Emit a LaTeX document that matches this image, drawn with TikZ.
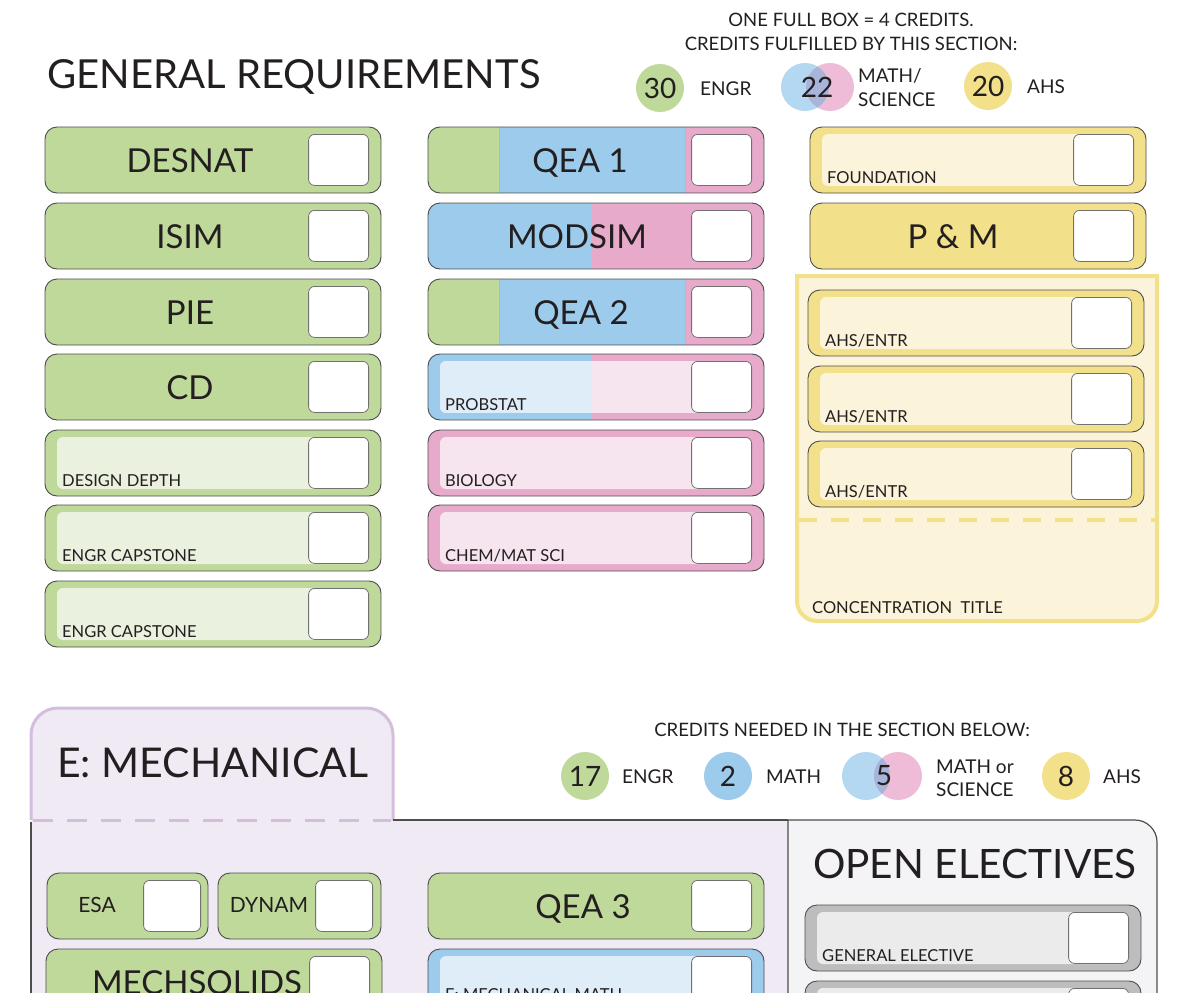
\documentclass[tikz,border=0pt]{standalone}
\usepackage{fontspec}
\setmainfont{Lato}
\usetikzlibrary{calc}
\definecolor{grn}{HTML}{BFD99B}
\definecolor{lgrn}{HTML}{EAF1DF}
\definecolor{blu}{HTML}{9DCBEC}
\definecolor{lblu}{HTML}{DFEDF8}
\definecolor{pnk}{HTML}{E8AACB}
\definecolor{lpnk}{HTML}{F6E4EF}
\definecolor{ylw}{HTML}{F3E08A}
\definecolor{lylw}{HTML}{FBF4DA}
\definecolor{lav}{HTML}{F0EAF4}
\definecolor{lavb}{HTML}{D5BEDD}
\definecolor{gry}{HTML}{BDBDBD}
\definecolor{lgry}{HTML}{EBEBEB}
\definecolor{oebg}{HTML}{F4F4F6}
\definecolor{bord}{HTML}{4D4D4D}
\definecolor{txt}{HTML}{231F20}
\definecolor{vblu}{HTML}{B5D8F2}
\definecolor{vpnk}{HTML}{EEBCD7}
\definecolor{vmix}{HTML}{A9B4DB}
\tikzset{
 base/.style={draw=bord, line width=0.9pt, rounded corners=12pt, minimum width=336pt, minimum height=66pt, anchor=north west, inner sep=0pt, outer sep=0pt},
 check/.style={draw=bord!80, fill=white, line width=0.8pt, rounded corners=6pt, minimum width=60pt, minimum height=51pt, anchor=north east, inner sep=0pt},
 big/.style={font=\fontsize{33}{33}\selectfont, text=txt, anchor=base, inner sep=0pt},
 small/.style={font=\fontsize{16.5}{16.5}\selectfont, text=txt, anchor=base west, inner sep=0pt},
 leg/.style={font=\fontsize{18.5}{18.5}\selectfont, text=txt, anchor=base, inner sep=0pt},
 legl/.style={font=\fontsize{19}{19}\selectfont, text=txt, anchor=base west, inner sep=0pt},
 num/.style={circle, minimum size=48pt, inner sep=0pt, font=\fontsize{28}{28}\selectfont, text=txt},
 numt/.style={inner sep=0pt, font=\fontsize{28}{28}\selectfont, text=txt},
 head/.style={font=\fontsize{40}{40}\selectfont, text=txt, anchor=base west, inner sep=0pt},
}
\newcommand\FullBox[6]{%
 \node[base, fill=#4] (#1) at (#2,#3) {};
 \node[check] (#1c) at ($(#1.north east)+(-12,7)$) {};
 \node[big] (#1t) at ($(#1.north west)+(#6,45)$) {#5};}
\newcommand\LightBox[7]{%
 \node[base, fill=#4] (#1) at (#2,#3) {};
 \fill[#5, rounded corners=6pt] ($(#1.north west)+(12,7)$) rectangle ($(#1.south east)+(-14,-7)$);
 \node[check] (#1c) at ($(#1.north east)+(-12,7)$) {};
 \node[small] (#1t) at ($(#1.north west)+(17,#7)$) {#6};}
\begin{document}
\begin{tikzpicture}[x=1pt,y=-1pt]
\useasboundingbox (0,0) rectangle (1200,993);
\clip (0,0) rectangle (1200,993);
\fill[white] (0,0) rectangle (1200,993);
% title
\node[head] (title) at (47,88) {GENERAL REQUIREMENTS};
% top legend
\node[leg] (leg1) at (851,26) {ONE FULL BOX = 4 CREDITS.};
\node[leg] (leg2) at (851,50) {CREDITS FULFILLED BY THIS SECTION:};
\node[num, fill=grn] (c30) at (660,88) {30};
\node[legl] (lengr) at (700,95) {ENGR};
\node[num, fill=vblu] (vb1) at (805,87) {};
\node[num, fill=vpnk] (vp1) at (830,87) {};
\begin{scope}
 \clip (vb1.center) circle[radius=24pt];
 \fill[vmix] (vp1.center) circle[radius=24pt];
\end{scope}
\node[numt] (n22) at (817,87) {22};
\node[legl] (lmath) at (858,82) {MATH/};
\node[legl] (lsci) at (858,106) {SCIENCE};
\node[num, fill=ylw] (c20) at (988,86) {20};
\node[legl] (lahs) at (1027,93) {AHS};
% left column
\FullBox{desnat}{45}{127}{grn}{DESNAT}{145}
\FullBox{isim}{45}{203}{grn}{ISIM}{145}
\FullBox{pie}{45}{279}{grn}{PIE}{145}
\FullBox{cd}{45}{354}{grn}{CD}{145}
\LightBox{dd}{45}{430}{grn}{lgrn}{DESIGN DEPTH}{56}
\LightBox{cap1}{45}{505}{grn}{lgrn}{ENGR CAPSTONE}{56}
\LightBox{cap2}{45}{581}{grn}{lgrn}{ENGR CAPSTONE}{56}
% middle column
\begin{scope}
 \clip[rounded corners=12pt] (428,127) rectangle (764,193);
 \fill[pnk] (428,127) rectangle (764,193);
 \fill[blu] (499,127) rectangle (685,193);
 \fill[grn] (428,127) rectangle (499,193);
\end{scope}
\draw[bord!40, line width=0.5pt] (499,127) -- (499,193) (685,127) -- (685,193);
\node[base] (qea1) at (428,127) {};
\node[check] (qea1c) at ($(qea1.north east)+(-12,7)$) {};
\node[big] (qea1t) at (580,172) {QEA 1};
\begin{scope}
 \clip[rounded corners=12pt] (428,203) rectangle (764,269);
 \fill[pnk] (428,203) rectangle (764,269);
 \fill[blu] (428,203) rectangle (592,269);
\end{scope}
\node[base] (modsim) at (428,203) {};
\node[check] (modsimc) at ($(modsim.north east)+(-12,7)$) {};
\node[big] (modsimt) at (577,248) {MODSIM};
\begin{scope}
 \clip[rounded corners=12pt] (428,279) rectangle (764,345);
 \fill[pnk] (428,279) rectangle (764,345);
 \fill[blu] (499,279) rectangle (685,345);
 \fill[grn] (428,279) rectangle (499,345);
\end{scope}
\draw[bord!40, line width=0.5pt] (499,279) -- (499,345) (685,279) -- (685,345);
\node[base] (qea2) at (428,279) {};
\node[check] (qea2c) at ($(qea2.north east)+(-12,7)$) {};
\node[big] (qea2t) at (581,324) {QEA 2};
\begin{scope}
 \clip[rounded corners=12pt] (428,354) rectangle (764,420);
 \fill[pnk] (428,354) rectangle (764,420);
 \fill[blu] (428,354) rectangle (592,420);
\end{scope}
\begin{scope}
 \clip[rounded corners=6pt] (440,361) rectangle (750,413);
 \fill[lpnk] (440,361) rectangle (750,413);
 \fill[lblu] (440,361) rectangle (592,413);
\end{scope}
\node[base] (probstat) at (428,354) {};
\node[check] (probstatc) at ($(probstat.north east)+(-12,7)$) {};
\node[small] (probstatt) at (445,410) {PROBSTAT};
\LightBox{bio}{428}{430}{pnk}{lpnk}{BIOLOGY}{56}
\LightBox{chem}{428}{505}{pnk}{lpnk}{CHEM/MAT SCI}{56}
% right column
\LightBox{found}{810}{127}{ylw}{lylw}{FOUNDATION}{56}
\FullBox{pm}{810}{203}{ylw}{P \& M}{143}
\draw[ylw, line width=4pt, fill=lylw] (797,276) -- (797,601) .. controls (797,612) and (806,621) .. (817,621) -- (1137,621) .. controls (1148,621) and (1157,612) .. (1157,601) -- (1157,276) -- cycle;
\draw[ylw, line width=4pt, dash pattern=on 18pt off 14pt] (799,520) -- (1155,520);
\LightBox{ahs1}{808}{290}{ylw}{lylw}{AHS/ENTR}{56}
\LightBox{ahs2}{808}{366}{ylw}{lylw}{AHS/ENTR}{56}
\LightBox{ahs3}{808}{441}{ylw}{lylw}{AHS/ENTR}{56}
\node[small] (conc) at (812,613) {CONCENTRATION\ \ TITLE};
% lower legend
\node[leg] (leg3) at (842,736) {CREDITS NEEDED IN THE SECTION BELOW:};
\node[num, fill=grn] (c17) at (585,776) {17};
\node[legl] (lengr2) at (622,783) {ENGR};
\node[num, fill=blu] (c2) at (728,776) {2};
\node[legl] (lmath2) at (766,783) {MATH};
\node[num, fill=vblu] (vb2) at (866,776) {};
\node[num, fill=vpnk] (vp2) at (898,776) {};
\begin{scope}
 \clip (vb2.center) circle[radius=24pt];
 \fill[vmix] (vp2.center) circle[radius=24pt];
\end{scope}
\node[numt] (n5) at (884,776) {5};
\node[legl] (lmo) at (936,773) {MATH or};
\node[legl] (lsci2) at (936,796) {SCIENCE};
\node[num, fill=ylw] (c8) at (1066,776) {8};
\node[legl] (lahs2) at (1103,783) {AHS};
% E: mechanical section
\fill[lav] (31,820) rectangle (788,1000);
\draw[lavb, line width=3pt, fill=lav] (31,820) -- (31,735) .. controls (31,720) and (43,708) .. (58,708) -- (366,708) .. controls (381,708) and (393,720) .. (393,735) -- (393,820);
\draw[lavb, line width=3pt, dash pattern=on 20pt off 14pt] (33,820) -- (391,820);
\node[head, font=\fontsize{41}{41}\selectfont] (emech) at (57,777) {E: MECHANICAL};
\draw[bord, line width=1.2pt] (31,822) -- (31,1000);
\draw[bord, line width=1.2pt] (393,820) -- (788,820);
\draw[bord, line width=1.2pt, fill=oebg] (788,1000) -- (788,820) -- (1135,820) .. controls (1147,820) and (1157,830) .. (1157,842) -- (1157,1000);
\node[head, font=\fontsize{40.5}{40.5}\selectfont] (oe) at (813,878) {OPEN ELECTIVES};
\LightBox{ge1}{805}{905}{gry}{lgry}{GENERAL ELECTIVE}{56}
\node[base, fill=gry] (ge2) at (805,981) {};
\fill[lgry, rounded corners=6pt] ($(ge2.north west)+(12,7)$) rectangle ($(ge2.south east)+(-14,-7)$);
\node[check] (ge2c) at ($(ge2.north east)+(-12,7)$) {};
\node[base, fill=grn, minimum width=161pt] (esa) at (47,873) {};
\node[check, minimum width=57pt] (esac) at ($(esa.north east)+(-7,7)$) {};
\node[big, font=\fontsize{21}{21}\selectfont] (esat) at (97,912) {ESA};
\node[base, fill=grn, minimum width=163pt] (dynam) at (218,873) {};
\node[check, minimum width=57pt] (dynamc) at ($(dynam.north east)+(-8,7)$) {};
\node[big, font=\fontsize{21}{21}\selectfont] (dynamt) at (269,912) {DYNAM};
\FullBox{mechsolids}{46}{949}{grn}{MECHSOLIDS}{151}
\FullBox{qea3}{428}{873}{grn}{QEA 3}{155}
\LightBox{emath}{428}{949}{blu}{lblu}{E: MECHANICAL MATH}{51}
\end{tikzpicture}
\end{document}
